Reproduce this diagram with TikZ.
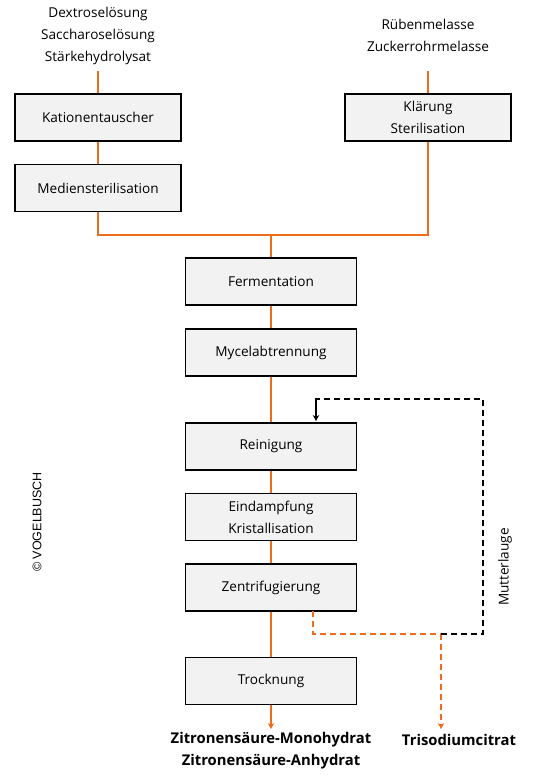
\documentclass[tikz,border=0pt]{standalone}
\usepackage{fontspec}
\setmainfont{Open Sans}
\newfontfamily\arialf{Liberation Sans}
\usetikzlibrary{arrows.meta}
\definecolor{orng}{RGB}{236,108,28}
\definecolor{boxfill}{RGB}{242,242,242}
\begin{document}
\begin{tikzpicture}[x=1pt,y=-1pt,
  procbox/.style={draw=black,line width=1.5pt,fill=boxfill,minimum width=166pt,minimum height=47pt,inner sep=0pt,align=center,font=\fontsize{13.6}{22}\selectfont},
  mainbox/.style={procbox,minimum width=171pt},
  flow/.style={draw=orng,line width=1.7pt},
  txt/.style={align=center,font=\fontsize{13.6}{22}\selectfont,inner sep=0pt},
  btxt/.style={align=center,font=\fontsize{14.8}{22}\selectfont\bfseries,inner sep=0pt},
  tip/.style={-{Stealth[length=6pt,width=6.5pt]}}
]
\useasboundingbox (0,0) rectangle (538,776);
% sources
\node[txt] (src1) at (98,36) {Dextroselösung\\Saccharoselösung\\Stärkehydrolysat};
\node[txt] (src2) at (428,35) {Rübenmelasse\\Zuckerrohrmelasse};
\coordinate (s1) at (98,71);
\coordinate (s2) at (428,71);
% boxes
\node[procbox] (kat) at (98,117.5) {Kationentauscher};
\node[procbox] (med) at (98,188) {Mediensterilisation};
\node[procbox] (kla) at (428,117.5) {Klärung\\Sterilisation};
\node[mainbox] (fer) at (271,281.5) {Fermentation};
\node[mainbox] (myc) at (271,352.5) {Mycelabtrennung};
\node[mainbox] (rei) at (271,446.5) {Reinigung};
\node[mainbox] (ein) at (271,517) {Eindampfung\\Kristallisation};
\node[mainbox] (zen) at (271,587.5) {Zentrifugierung};
\node[mainbox] (tro) at (271,681) {Trocknung};
% products
\node[btxt] (p1) at (271,751) {Zitronensäure-Monohydrat\\Zitronensäure-Anhydrat};
\node[btxt] (p2) at (459,740) {Trisodiumcitrat};
\coordinate (p1t) at (271,729);
\coordinate (p2t) at (441,729);
% junction
\coordinate (j) at (271,235);
% connectors
\draw[flow] (s1) -- (kat.north);
\draw[flow] (kat.south) -- (med.north);
\draw[flow] (s2) -- (kla.north);
\draw[flow] (med.south) |- (j) -| (kla.south);
\draw[flow] (j) -- (fer.north);
\draw[flow] (fer.south) -- (myc.north);
\draw[flow] (myc.south) -- (rei.north);
\draw[flow] (rei.south) -- (ein.north);
\draw[flow] (ein.south) -- (zen.north);
\draw[flow] (zen.south) -- (tro.north);
\draw[flow,tip,orng] (tro.south) -- (p1t);
% dashed side stream
\coordinate (d0) at (313,611);
\coordinate (d1) at (313,634);
\coordinate (d2) at (441,634);
\coordinate (d3) at (483,634);
\coordinate (d4) at (483,399);
\coordinate (d5) at (316,399);
\coordinate (d6) at (316,421);
\draw[draw=orng,line width=1.7pt,dash pattern=on 6pt off 4pt] (d0) -- (d1) -- (d2);
\draw[draw=orng,line width=1.7pt,dash pattern=on 6pt off 4pt,tip,orng] (d2) -- (p2t);
\draw[black,line width=1.7pt,dash pattern=on 6pt off 4pt] (d2) -- (d3) -- (d4) -- (d5) -- ([yshift=-2pt]d5);
\draw[black,line width=1.7pt,tip] ([yshift=-2pt]d5) -- (d6);
\node[txt,rotate=90] (mut) at (505,567) {Mutterlauge};
\node[inner sep=0pt,rotate=90,font=\arialf\fontsize{12.5}{14}\selectfont] (vog) at (37,522) {© VOGELBUSCH};
\end{tikzpicture}
\end{document}
